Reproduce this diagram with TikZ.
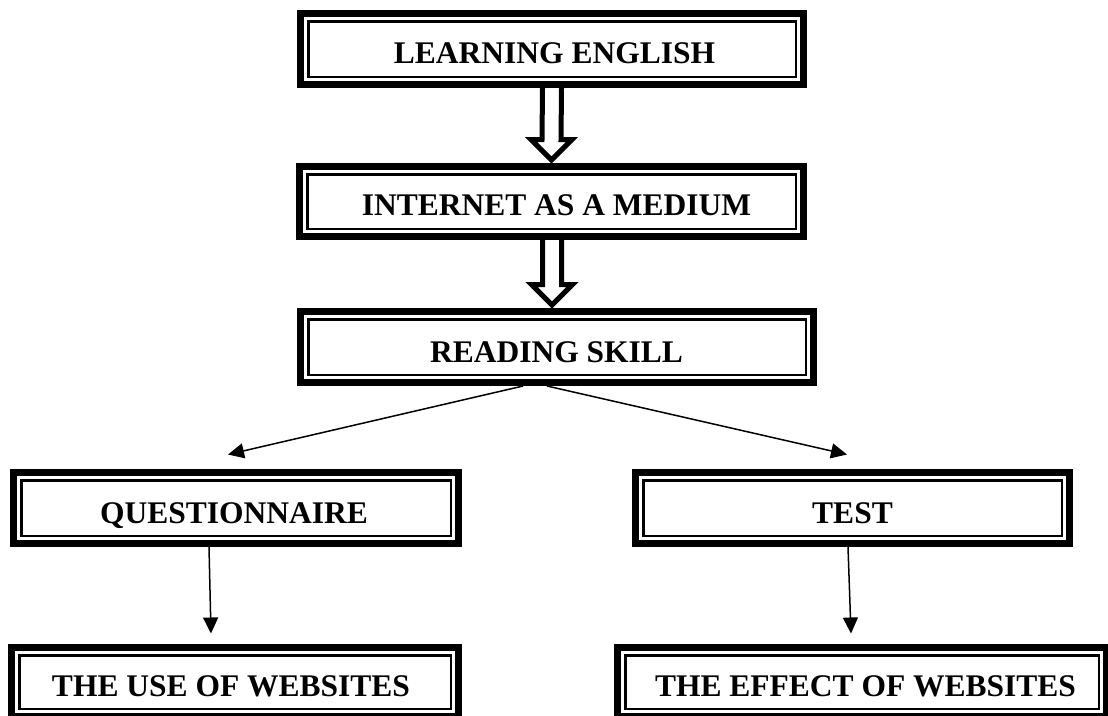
\documentclass[tikz,border=0pt]{standalone}
\usepackage{fontspec}
\setmainfont{Liberation Serif}
\usetikzlibrary{arrows.meta,calc}
\tikzset{
  box/.style={draw, line width=7pt, inner sep=0pt, minimum width=#1},
  inbox/.style={line width=2.5pt},
  lbl/.style={font=\bfseries\fontsize{31.5}{36}\selectfont, anchor=base, inner sep=0pt},
  arr/.style={line width=1.5pt, -{Triangle[length=16pt,width=15pt]}},
  hollow/.style={line width=5pt, miter limit=10, fill=white}
}
\begin{document}
\begin{tikzpicture}[x=1pt,y=-1pt]
\useasboundingbox (0,0) rectangle (1108,715);
\node[box=503pt, minimum height=71pt] (b1) at (552,49) {};
\node[box=504pt, minimum height=70pt] (b2) at (551.5,201.5) {};
\node[box=513pt, minimum height=71pt] (b3) at (557,347) {};
\node[box=445pt, minimum height=71pt] (b4) at (236,508) {};
\node[box=434pt, minimum height=71pt] (b5) at (852.5,508) {};
\node[box=447pt, minimum height=69pt] (b6) at (235,682) {};
\node[box=489pt, minimum height=69pt] (b7) at (862,682) {};
\draw[inbox] ($(b1.north west)+(11.25,11.25)$) rectangle ($(b1.south east)+(-11.25,-11.25)$);
\draw[inbox] ($(b2.north west)+(11.25,11.25)$) rectangle ($(b2.south east)+(-11.25,-11.25)$);
\draw[inbox] ($(b3.north west)+(11.25,11.25)$) rectangle ($(b3.south east)+(-11.25,-11.25)$);
\draw[inbox] ($(b4.north west)+(11.25,11.25)$) rectangle ($(b4.south east)+(-11.25,-11.25)$);
\draw[inbox] ($(b5.north west)+(11.25,11.25)$) rectangle ($(b5.south east)+(-11.25,-11.25)$);
\draw[inbox] ($(b6.north west)+(11.25,11.25)$) rectangle ($(b6.south east)+(-11.25,-11.25)$);
\draw[inbox] ($(b7.north west)+(11.25,11.25)$) rectangle ($(b7.south east)+(-11.25,-11.25)$);
\node[lbl] (t1) at (554.5,63) {LEARNING ENGLISH};
\node[lbl] (t2) at (556.5,215) {INTERNET AS A MEDIUM};
\node[lbl] (t3) at (556.5,362) {READING SKILL};
\node[lbl] (t4) at (234,523) {QUESTIONNAIRE};
\node[lbl] (t5) at (852.5,523) {TEST};
\node[lbl] (t6) at (231,696) {THE USE OF WEBSITES};
\node[lbl] (t7) at (865.5,696) {THE EFFECT OF WEBSITES};
% hollow arrows
\draw[hollow] ($(b1.south)+(-9.5,0)$) -- ($(b2.north)+(-9.5,-23.5)$) -- ($(b2.north)+(-20.5,-23.5)$)
   -- ($(b2.north)+(0,-3)$) -- ($(b2.north)+(20.5,-23.5)$) -- ($(b2.north)+(9.5,-23.5)$) -- ($(b1.south)+(9.5,0)$);
\draw[hollow] ($(b2.south)+(-9,0)$) -- ($(b3.north)+(-14.5,-23.5)$) -- ($(b3.north)+(-25.5,-23.5)$)
   -- ($(b3.north)+(-5,-3)$) -- ($(b3.north)+(15.5,-23.5)$) -- ($(b3.north)+(4.5,-23.5)$) -- ($(b2.south)+(10,0)$);
% thin arrows
\draw[arr] ($(b3.south)+(-34,0)$) -- ($(b4.north)+(-8,-14.5)$);
\draw[arr] ($(b3.south)+(-10,0)$) -- ($(b5.north)+(-5.5,-14.5)$);
\draw[arr] ($(b4.south)+(-27,0)$) -- ($(b6.north)+(-24,-10.5)$);
\draw[arr] ($(b5.south)+(-4.5,0)$) -- ($(b7.north)+(-11,-10.5)$);
\end{tikzpicture}
\end{document}
